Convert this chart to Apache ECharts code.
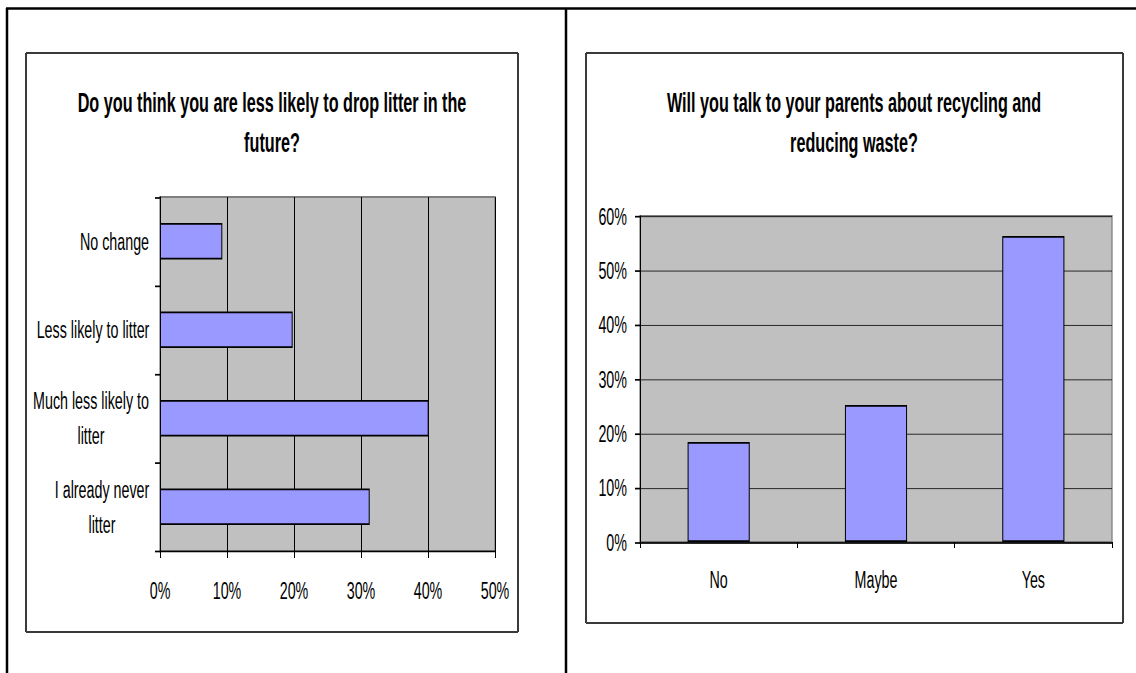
<!DOCTYPE html>
<html>
<head>
<meta charset="utf-8">
<script src="https://cdn.jsdelivr.net/npm/echarts@6/dist/echarts.min.js"></script>
<style>
  html, body { margin: 0; padding: 0; background: #ffffff; width: 1136px; height: 673px; overflow: hidden; }
  #chart { width: 1136px; height: 396px; transform: scaleY(1.69949); transform-origin: 0 0; }
</style>
</head>
<body>
<div id="chart"></div>
<script>
// ---------- data ----------
const leftTitle = 'Do you think you are less likely to drop litter in the\nfuture?';
const leftCategories = ['No change', 'Less likely to litter', 'Much less likely to\nlitter', 'I already never\nlitter'];
const leftValues = [9.3, 19.8, 40.1, 31.3];
const leftTicks = [0, 10, 20, 30, 40, 50];

const rightTitle = 'Will you talk to your parents about recycling and\nreducing waste?';
const rightCategories = ['No', 'Maybe', 'Yes'];
const rightValues = [18.4, 25.2, 56.3];
const rightTicks = [0, 10, 20, 30, 40, 50, 60];

// ---------- layout helpers (page is drawn compressed, then stretched vertically) ----------
const S = 673 / 396;
const Y = v => v / S;
const FONT = '"Liberation Sans", Arial, sans-serif';
const LBL = 14.3;
const lineH = 35 / S;

// measure text for centred multi-line category labels
const cv = document.createElement('canvas').getContext('2d');
cv.font = LBL + 'px ' + FONT;
const rich = {};
leftCategories.forEach((c, i) => {
  const lines = c.split('\n');
  const w = Math.max(...lines.map(l => cv.measureText(l).width));
  rich['c' + i] = { width: Math.ceil(w) + 1, align: 'center', fontSize: LBL, fontFamily: FONT, color: '#000', lineHeight: lineH };
});

function hLine(x1, x2, y, w, color) {
  return { type: 'line', silent: true, shape: { x1: x1, y1: Y(y), x2: x2, y2: Y(y) }, style: { stroke: color, lineWidth: w / S } };
}
function vLine(x, y1, y2, w, color) {
  return { type: 'line', silent: true, shape: { x1: x, y1: Y(y1), x2: x, y2: Y(y2) }, style: { stroke: color, lineWidth: w } };
}
function box(x1, y1, x2, y2) {
  const c = '#3a3a3a';
  return [hLine(x1, x2, y1, 2, c), hLine(x1, x2, y2, 2, c), vLine(x1, y1, y2, 2, c), vLine(x2, y1, y2, 2, c)];
}

const graphics = [].concat(
  [hLine(6, 1136, 8.5, 2.5, '#000'), vLine(7, 8, 673, 2.5, '#000'), vLine(566, 8, 673, 2.5, '#000')],
  box(26, 53, 518, 632),
  box(586, 53, 1123, 623)
);

const chart = echarts.init(document.getElementById('chart'), null, { renderer: 'svg' });
chart.setOption({
  animation: false,
  backgroundColor: '#ffffff',
  textStyle: { fontFamily: FONT },
  title: [
    { text: leftTitle, left: 272, top: Y(123) - 23.5, textAlign: 'center', padding: 0,
      textStyle: { fontSize: 16.2, fontWeight: 'bold', fontFamily: FONT, color: '#000', lineHeight: 23.5 } },
    { text: rightTitle, left: 854, top: Y(123) - 23.5, textAlign: 'center', padding: 0,
      textStyle: { fontSize: 16.2, fontWeight: 'bold', fontFamily: FONT, color: '#000', lineHeight: 23.5 } }
  ],
  graphic: graphics,
  grid: [
    { left: 160, width: 335, top: Y(197), height: Y(354), show: true, backgroundColor: '#C0C0C0', borderColor: '#808080', borderWidth: 1.3 },
    { left: 640, width: 472, top: Y(216), height: Y(326), show: true, backgroundColor: '#C0C0C0', borderColor: '#808080', borderWidth: 1.3 }
  ],
  xAxis: [
    { type: 'value', gridIndex: 0, min: leftTicks[0], max: leftTicks[leftTicks.length - 1], interval: 10,
      axisLine: { show: true, lineStyle: { color: '#000', width: 1 } },
      axisTick: { show: true, length: Y(7), lineStyle: { color: '#000' } },
      axisLabel: { margin: Y(39) - 8, fontSize: LBL, color: '#000', fontFamily: FONT, lineHeight: 16, formatter: v => v + '%' },
      splitLine: { show: true, lineStyle: { color: '#000', width: 1 } } },
    { type: 'category', gridIndex: 1, data: rightCategories,
      axisLine: { show: true, lineStyle: { color: '#000', width: 1 } },
      axisTick: { show: true, length: Y(6), alignWithLabel: false, lineStyle: { color: '#000' } },
      axisLabel: { margin: Y(37) - 8, fontSize: LBL, color: '#000', fontFamily: FONT, lineHeight: 16 },
      splitLine: { show: false } }
  ],
  yAxis: [
    { type: 'category', gridIndex: 0, data: leftCategories, inverse: true,
      axisLine: { show: true, lineStyle: { color: '#000', width: 1 } },
      axisTick: { show: true, length: 5, alignWithLabel: false, lineStyle: { color: '#000' } },
      axisLabel: { margin: 10, fontSize: LBL, color: '#000', fontFamily: FONT, rich: rich,
        formatter: v => v.split('\n').map(l => '{c' + leftCategories.indexOf(v) + '|' + l + '}').join('\n') },
      splitLine: { show: false } },
    { type: 'value', gridIndex: 1, min: rightTicks[0], max: rightTicks[rightTicks.length - 1], interval: 10,
      axisLine: { show: true, lineStyle: { color: '#000', width: 1 } },
      axisTick: { show: true, length: 5, lineStyle: { color: '#000' } },
      axisLabel: { margin: 13, fontSize: LBL, color: '#000', fontFamily: FONT, formatter: v => v + '%' },
      splitLine: { show: true, lineStyle: { color: '#000', width: 1 / S } } }
  ],
  series: [
    { type: 'bar', xAxisIndex: 0, yAxisIndex: 0, data: leftValues, barWidth: '41%',
      itemStyle: { color: '#9999FF', borderColor: '#000', borderWidth: 1 } },
    { type: 'bar', xAxisIndex: 1, yAxisIndex: 1, data: rightValues, barWidth: '39.5%',
      itemStyle: { color: '#9999FF', borderColor: '#000', borderWidth: 1 } }
  ]
});
</script>
</body>
</html>
